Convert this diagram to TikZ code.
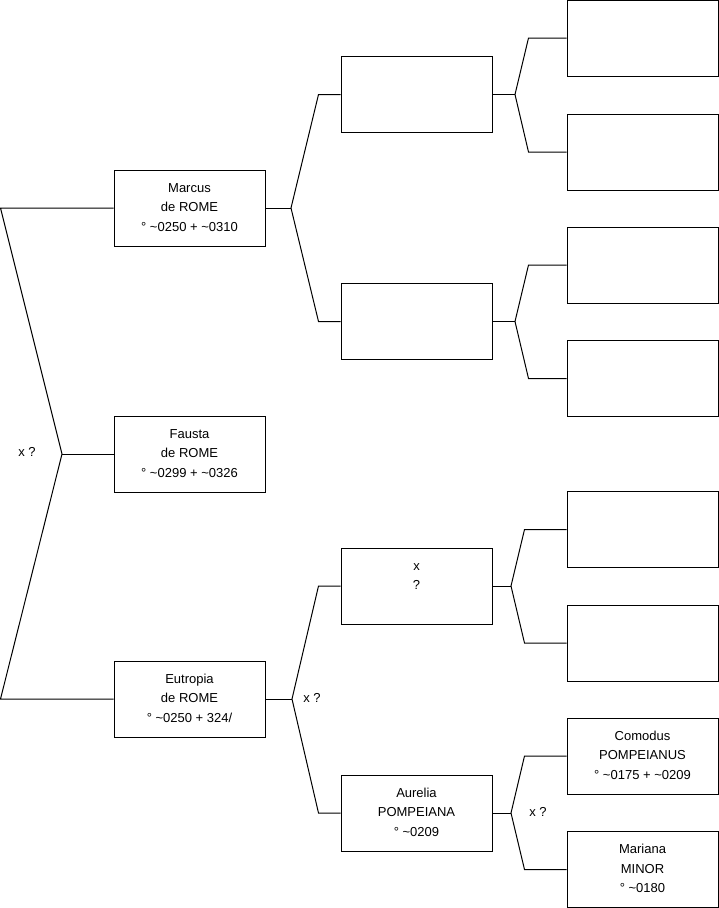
\documentclass[tikz,border=0pt]{standalone}
\usepackage{fontspec}
\setmainfont{Liberation Sans}
\usetikzlibrary{positioning}
\begin{document}
\begin{tikzpicture}[x=1pt,y=-1pt,
  box/.style={draw=black, line width=1pt, minimum width=151pt, minimum height=76pt, inner sep=0pt},
  txt/.style={inner sep=0pt, align=center, anchor=north, font=\fontsize{13}{19.5}\selectfont},
  lbl/.style={inner sep=0pt, font=\fontsize{13}{19.5}\selectfont},
  conn/.style={line width=1pt, draw=black}]
\useasboundingbox (0,0) rectangle (719,908);
% generation 1
\node[box] (m) at (189.5,208) {};
\node[box] (fa) at (189.5,454) {};
\node[box] (eu) at (189.5,699) {};
% generation 2
\node[box] (g1) at (416.5,94.5) {};
\node[box] (g2) at (416.5,321.5) {};
\node[box] (g3) at (416.5,586) {};
\node[box] (g4) at (416.5,813) {};
% generation 3
\node[box] (h1) at (642.5,38) {};
\node[box] (h2) at (642.5,152) {};
\node[box] (h3) at (642.5,265) {};
\node[box] (h4) at (642.5,378.5) {};
\node[box] (h5) at (642.5,529.5) {};
\node[box] (h6) at (642.5,643) {};
\node[box] (h7) at (642.5,756) {};
\node[box] (h8) at (642.5,869.5) {};
% texts
\node[txt, below=8.8pt of m.north] (mt) {\strut Marcus\\de ROME\\° \textasciitilde0250 + \textasciitilde0310};
\node[txt, below=8.8pt of fa.north] (fat) {\strut Fausta\\de ROME\\° \textasciitilde0299 + \textasciitilde0326};
\node[txt, below=8.8pt of eu.north] (eut) {\strut Eutropia\\de ROME\\° \textasciitilde0250 + 324/};
\node[txt, below=8.8pt of g3.north] (g3t) {\strut x\\?};
\node[txt, below=8.8pt of g4.north] (g4t) {\strut Aurelia\\POMPEIANA\\° \textasciitilde0209};
\node[txt, below=8.8pt of h7.north] (h7t) {\strut Comodus\\POMPEIANUS\\° \textasciitilde0175 + \textasciitilde0209};
\node[txt, below=8.8pt of h8.north] (h8t) {\strut Mariana\\MINOR\\° \textasciitilde0180};
% forks
\coordinate (f0) at (62,454);
\coordinate (a0) at (0.5,208);
\coordinate (b0) at (0.5,699);
\coordinate (f1) at (291,208);
\coordinate (f2) at (292,699);
\coordinate (k1) at (515,94.5);
\coordinate (k2) at (515,321.5);
\coordinate (k3) at (511,586);
\coordinate (k4) at (511,813);
% connectors
\draw[conn] (m.west) -- (a0) -- (f0) -- (b0) -- (eu.west);
\draw[conn] (f0) -- (fa.west);
\draw[conn] (m.east) -- (f1);
\draw[conn] (g1.west) -- ++(-22,0) -- (f1) -- ([xshift=-22pt]g2.west) -- (g2.west);
\draw[conn] (eu.east) -- (f2);
\draw[conn] (g3.west) -- ++(-22,0) -- (f2) -- ([xshift=-22pt]g4.west) -- (g4.west);
\draw[conn] (g1.east) -- (k1);
\draw[conn] (h1.west) -- ++(-38,0) -- (k1) -- ([xshift=-38pt]h2.west) -- (h2.west);
\draw[conn] (g2.east) -- (k2);
\draw[conn] (h3.west) -- ++(-38,0) -- (k2) -- ([xshift=-38pt]h4.west) -- (h4.west);
\draw[conn] (g3.east) -- (k3);
\draw[conn] (h5.west) -- ++(-42,0) -- (k3) -- ([xshift=-42pt]h6.west) -- (h6.west);
\draw[conn] (g4.east) -- (k4);
\draw[conn] (h7.west) -- ++(-42,0) -- (k4) -- ([xshift=-42pt]h8.west) -- (h8.west);
% labels
\node[lbl] (l0) at (27,452) {x ?};
\node[lbl] (l1) at (312,698) {x ?};
\node[lbl] (l2) at (538,812) {x ?};
\end{tikzpicture}
\end{document}
